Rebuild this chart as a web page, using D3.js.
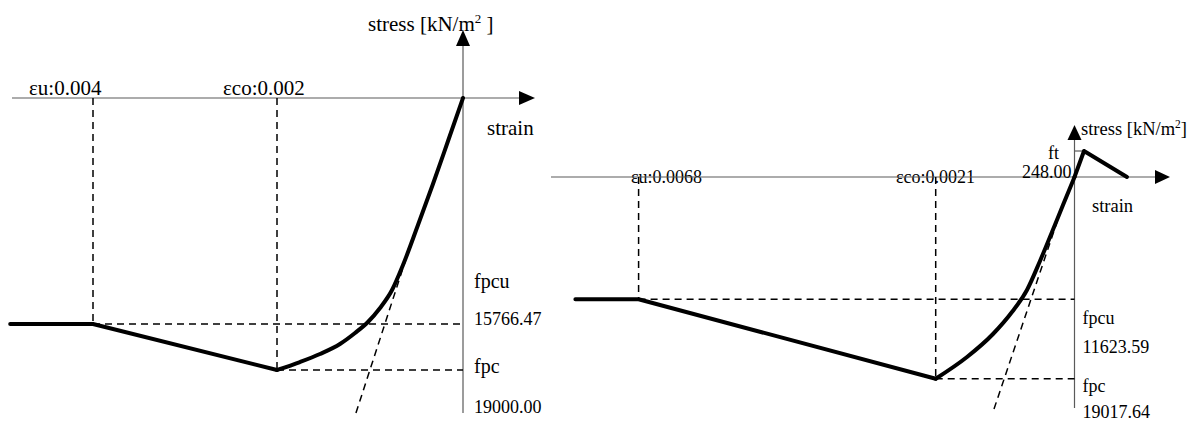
<!DOCTYPE html>
<html>
<head>
<meta charset="utf-8">
<script src="https://cdn.jsdelivr.net/npm/d3@7"></script>
<style>
  html, body { margin: 0; padding: 0; background: #fff; }
  svg { display: block; }
</style>
</head>
<body>
<svg id="chart" width="1193" height="421" font-family="Liberation Serif, Times New Roman, DejaVu Serif, serif"></svg>
<script>
// ---------------- Left panel data (strain, stress in kN/m2; compression negative) ----------------
const L_strainMarks  = [-0.004, -0.002, 0];          // εu, εco, origin
const L_stressMarks  = [-19000, -15766.47, 0];       // fpc, fpcu, origin
const L_curveStrain  = [-0.0049, -0.004, -0.002, -0.001753, -0.001538, -0.001323, -0.001161, -0.001022, -0.000892, -0.000763, -0.000645, -0.000484, -0.000323, -0.000161, 0];
const L_curveStress  = [-15766.47, -15766.47, -19000, -18438, -17875, -17172, -16399, -15627, -14650, -13395, -11650, -8860, -6000, -3000, 0];
const L_tangentStrain = [-0.001151, -0.000624];
const L_tangentStress = [-22023, -11441];
const L_strainLabels = ["εu:0.004", "εco:0.002"];
const L_stressNames  = ["fpcu", "fpc"];
const L_stressValues = ["15766.47", "19000.00"];

// ---------------- Right panel data ----------------
const R_strainMarks  = [-0.0068, -0.0021, 0];
const R_stressMarks  = [-19017.64, -11623.59, 0, 248];
const R_curveStrain  = [-0.0078, -0.0068, -0.0021, -0.001626, -0.001233, -0.000946, -0.000719, -0.000522, -0.000340, -0.000174, 0, 0.000144, 0.000794];
const R_curveStress  = [-11623.59, -11623.59, -19017.64, -16997, -14855, -12806, -10740, -7984, -5227, -2661, 0, 248, 0];
const R_tangentStrain = [-0.001218, -0.000265];
const R_tangentStress = [-21840, -4277];
const R_strainLabels = ["εu:0.0068", "εco:0.0021"];
const R_stressNames  = ["fpcu", "fpc"];
const R_stressValues = ["11623.59", "19017.64"];
const R_tensionName  = "ft";
const R_tensionValue = "248.00";

const FONT = "Liberation Serif";
const svg = d3.select("#chart");

function txt(sel) { return sel.attr("font-family", FONT).attr("fill", "#000"); }

function drawPanel(p) {
  const g = svg.append("g");
  const x = d3.scaleLinear().domain(p.strainMarks).range(p.xRange);
  const y = d3.scaleLinear().domain(p.stressMarks).range(p.yRange);
  const x0 = x(0), y0 = y(0);
  const fs = p.fontSize;

  // strain labels (drawn first, axis line goes over them)
  txt(g.selectAll("text.slab").data(p.strainLabels).join("text"))
    .attr("class", "slab")
    .attr("x", (d, i) => p.strainLabelX[i])
    .attr("y", y0 + p.strainLabelDy)
    .attr("font-size", fs.top)
    .text(d => d);

  // axes
  g.append("line").attr("x1", p.xAxisStart).attr("x2", p.xArrowTip - 4)
    .attr("y1", y0).attr("y2", y0).attr("stroke", "#5a5a5a").attr("stroke-width", 1.2);
  g.append("line").attr("x1", x0).attr("x2", x0)
    .attr("y1", p.yAxisEnd).attr("y2", p.yArrowTip + 4).attr("stroke", "#5a5a5a").attr("stroke-width", 1.2);
  const al = p.arrowLen, aw = p.arrowHalf;
  g.append("path").attr("d", `M${p.xArrowTip},${y0} L${p.xArrowTip - al},${y0 - aw} L${p.xArrowTip - al},${y0 + aw} Z`).attr("fill", "#000");
  g.append("path").attr("d", `M${x0},${p.yArrowTip} L${x0 - aw},${p.yArrowTip + al} L${x0 + aw},${p.yArrowTip + al} Z`).attr("fill", "#000");

  // dashed guides
  const dash = "7,5";
  const guides = [
    [x(p.strainMarks[0]), y0, x(p.strainMarks[0]), y(p.stressMarks[1])],
    [x(p.strainMarks[1]), y0, x(p.strainMarks[1]), y(p.stressMarks[0])],
    [x(p.strainMarks[0]), y(p.stressMarks[1]), x0, y(p.stressMarks[1])],
    [x(p.strainMarks[1]), y(p.stressMarks[0]), x0, y(p.stressMarks[0])]
  ];
  g.selectAll("line.guide").data(guides).join("line").attr("class", "guide")
    .attr("x1", d => d[0]).attr("y1", d => d[1]).attr("x2", d => d[2]).attr("y2", d => d[3])
    .attr("stroke", "#000").attr("stroke-width", 1.5).attr("stroke-dasharray", dash);

  // tangent dashed line
  const tan = p.tangentStrain.map((s, i) => [s, p.tangentStress[i]]);
  g.append("path").datum(tan)
    .attr("d", d3.line().x(d => x(d[0])).y(d => y(d[1])))
    .attr("fill", "none").attr("stroke", "#000").attr("stroke-width", 1.5).attr("stroke-dasharray", dash);

  const pts = p.curveStrain.map((s, i) => [s, p.curveStress[i]]);
  const iOrigin = pts.findIndex(d => d[0] === 0 && d[1] === 0);
  // tension tick (right panel)
  if (p.tension) {
    const ft = p.stressMarks[3];
    g.append("line").attr("x1", x0).attr("x2", x(pts[iOrigin + 1][0]))
      .attr("y1", y(ft)).attr("y2", y(ft)).attr("stroke", "#5a5a5a").attr("stroke-width", 1.2);
  }

  // main curve: straight plateau + softening, smooth ascending branch, straight tension part
  const lin = d3.line().x(d => x(d[0])).y(d => y(d[1]));
  const smooth = d3.line().x(d => x(d[0])).y(d => y(d[1])).curve(d3.curveMonotoneX);
  const pieces = [
    { pts: pts.slice(0, 3), gen: lin },
    { pts: pts.slice(2, iOrigin + 1), gen: smooth },
    { pts: pts.slice(iOrigin), gen: lin }
  ].filter(d => d.pts.length > 1);
  g.selectAll("path.curve").data(pieces).join("path").attr("class", "curve")
    .attr("d", d => d.gen(d.pts))
    .attr("fill", "none").attr("stroke", "#000").attr("stroke-width", 4)
    .attr("stroke-linejoin", "round").attr("stroke-linecap", "round");

  // stress labels on the right of the y axis
  const ys = [y(p.stressMarks[1]), y(p.stressMarks[0])];
  txt(g.selectAll("text.sname").data(p.stressNames).join("text")).attr("class", "sname")
    .attr("x", x0 + p.labelDx).attr("y", (d, i) => ys[i] + p.nameDy[i])
    .attr("font-size", fs.name).text(d => d);
  txt(g.selectAll("text.sval").data(p.stressValues).join("text")).attr("class", "sval")
    .attr("x", x0 + p.labelDx).attr("y", (d, i) => ys[i] + p.valDy[i])
    .attr("font-size", fs.val).text(d => d);

  // axis titles
  const t = txt(g.append("text")).attr("x", p.titleX).attr("y", p.titleY).attr("font-size", fs.title);
  t.append("tspan").text("stress [kN/m");
  t.append("tspan").attr("dy", -fs.title * 0.4).attr("font-size", fs.title * 0.62).text("2");
  t.append("tspan").attr("dy", fs.title * 0.4).text(p.titleEnd);
  txt(g.append("text")).attr("x", p.strainTitleX).attr("y", y0 + p.strainTitleDy)
    .attr("font-size", fs.title).text("strain");

  if (p.tension) {
    txt(g.append("text")).attr("x", p.ftX).attr("y", y(p.stressMarks[3]) + 8).attr("font-size", fs.val).text(R_tensionName);
    txt(g.append("text")).attr("x", x0 - 3).attr("y", y0 + 1).attr("text-anchor", "end").attr("font-size", fs.val).text(R_tensionValue);
  }
}

drawPanel({
  strainMarks: L_strainMarks, stressMarks: L_stressMarks,
  xRange: [93, 277, 463], yRange: [370, 324, 98],
  curveStrain: L_curveStrain, curveStress: L_curveStress,
  tangentStrain: L_tangentStrain, tangentStress: L_tangentStress,
  strainLabels: L_strainLabels, strainLabelX: [29, 223], strainLabelDy: -3,
  stressNames: L_stressNames, stressValues: L_stressValues,
  xAxisStart: 12, xArrowTip: 535, yAxisEnd: 413, yArrowTip: 30,
  arrowLen: 16, arrowHalf: 7,
  labelDx: 11, nameDy: [-36, 3], valDy: [1, 43],
  titleX: 368, titleY: 31, titleEnd: " ]", strainTitleX: 487, strainTitleDy: 37,
  fontSize: { top: 21, name: 20, val: 18, title: 21 },
  tension: false
});

drawPanel({
  strainMarks: R_strainMarks, stressMarks: R_stressMarks,
  xRange: [638.6, 935.7, 1074.5], yRange: [378.7, 299.3, 177, 151],
  curveStrain: R_curveStrain, curveStress: R_curveStress,
  tangentStrain: R_tangentStrain, tangentStress: R_tangentStress,
  strainLabels: R_strainLabels, strainLabelX: [631, 896], strainLabelDy: 6,
  stressNames: R_stressNames, stressValues: R_stressValues,
  xAxisStart: 551, xArrowTip: 1170, yAxisEnd: 408, yArrowTip: 125,
  arrowLen: 15, arrowHalf: 7,
  labelDx: 8, nameDy: [25, 13], valDy: [54, 39],
  titleX: 1081, titleY: 135, titleEnd: "]", strainTitleX: 1092, strainTitleDy: 35,
  fontSize: { top: 18, name: 18, val: 18, title: 18.5 },
  tension: true, ftX: 1048
});
</script>
</body>
</html>
